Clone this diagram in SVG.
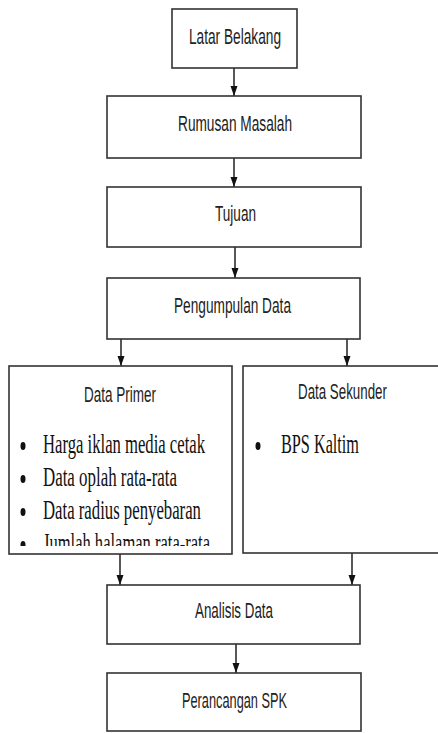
<svg xmlns="http://www.w3.org/2000/svg" width="438" height="733" viewBox="0 0 438 733">
<style>
.box{fill:#fff;stroke:#333;stroke-width:1.6}
.t{font-family:"Liberation Sans",Arial,sans-serif;font-size:22.5px;fill:#222}
.s{font-family:"Liberation Serif","Times New Roman",serif;font-size:27px;fill:#111}
.b{fill:#111}
.ln{stroke:#111;stroke-width:1.4;fill:none;marker-end:url(#ah)}
</style>
<defs>
<marker id="ah" markerUnits="userSpaceOnUse" markerWidth="11" markerHeight="8" refX="10" refY="4" orient="auto">
<path d="M0,0.5 L10,4 L0,7.5 z" fill="#111"/>
</marker>
<clipPath id="cp"><rect x="9" y="366" width="223" height="180"/></clipPath>
</defs>
<g id="connectors">
<line class="ln" x1="234" y1="68" x2="234" y2="96"/>
<line class="ln" x1="234" y1="158" x2="234" y2="187"/>
<line class="ln" x1="235" y1="247" x2="235" y2="278"/>
<line class="ln" x1="121" y1="339" x2="121" y2="366"/>
<line class="ln" x1="347" y1="339" x2="347" y2="366"/>
<line class="ln" x1="120" y1="554" x2="120" y2="585"/>
<line class="ln" x1="352" y1="553" x2="352" y2="585"/>
<line class="ln" x1="236" y1="644" x2="236" y2="673"/>
</g>
<g id="latar">
<rect class="box" x="172" y="9" width="125" height="59"/>
<text class="t" transform="translate(189,44) scale(0.62,1)" textLength="148.4" lengthAdjust="spacingAndGlyphs">Latar Belakang</text>
</g>
<g id="rumusan">
<rect class="box" x="107" y="96" width="254" height="62"/>
<text class="t" transform="translate(178,131) scale(0.62,1)" textLength="183.9" lengthAdjust="spacingAndGlyphs">Rumusan Masalah</text>
</g>
<g id="tujuan">
<rect class="box" x="107" y="187" width="254" height="60"/>
<text class="t" transform="translate(215,221) scale(0.62,1)" textLength="66.1" lengthAdjust="spacingAndGlyphs">Tujuan</text>
</g>
<g id="pengumpulan">
<rect class="box" x="107" y="278" width="253" height="61"/>
<text class="t" transform="translate(174,313) scale(0.62,1)" textLength="188.7" lengthAdjust="spacingAndGlyphs">Pengumpulan Data</text>
</g>
<g id="primer">
<rect class="box" x="9" y="366" width="223" height="188"/>
<text class="t" transform="translate(84,402) scale(0.62,1)" textLength="116.1" lengthAdjust="spacingAndGlyphs">Data Primer</text>
<g clip-path="url(#cp)">
<ellipse class="b" cx="23" cy="446" rx="2.5" ry="4"/>
<text class="s" transform="translate(43,453) scale(0.62,1)" textLength="261.3" lengthAdjust="spacingAndGlyphs">Harga iklan media cetak</text>
<ellipse class="b" cx="23" cy="479" rx="2.5" ry="4"/>
<text class="s" transform="translate(43,486) scale(0.62,1)" textLength="216.1" lengthAdjust="spacingAndGlyphs">Data oplah rata-rata</text>
<ellipse class="b" cx="23" cy="512" rx="2.5" ry="4"/>
<text class="s" transform="translate(43,519) scale(0.62,1)" textLength="254.8" lengthAdjust="spacingAndGlyphs">Data radius penyebaran</text>
<ellipse class="b" cx="23" cy="545" rx="2.5" ry="4"/>
<text class="s" transform="translate(43,552) scale(0.62,1)" textLength="269.4" lengthAdjust="spacingAndGlyphs">Jumlah halaman rata-rata</text>
</g>
</g>
<g id="sekunder">
<rect class="box" x="243" y="366" width="210" height="187"/>
<text class="t" transform="translate(298,399) scale(0.62,1)" textLength="143.5" lengthAdjust="spacingAndGlyphs">Data Sekunder</text>
<ellipse class="b" cx="258" cy="446" rx="2.5" ry="4"/>
<text class="s" transform="translate(281,453) scale(0.62,1)" textLength="125.8" lengthAdjust="spacingAndGlyphs">BPS Kaltim</text>
</g>
<g id="analisis">
<rect class="box" x="107" y="585" width="253" height="59"/>
<text class="t" transform="translate(195,618) scale(0.62,1)" textLength="125.8" lengthAdjust="spacingAndGlyphs">Analisis Data</text>
</g>
<g id="perancangan">
<rect class="box" x="107" y="673" width="254" height="58"/>
<text class="t" transform="translate(182,708) scale(0.62,1)" textLength="169.4" lengthAdjust="spacingAndGlyphs">Perancangan SPK</text>
</g>
</svg>
